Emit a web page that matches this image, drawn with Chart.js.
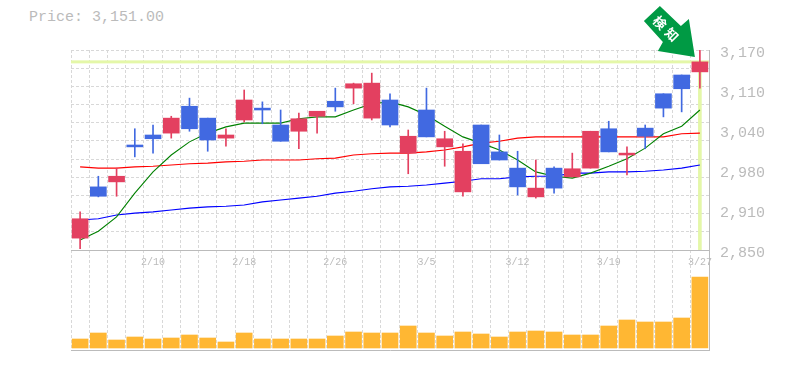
<!DOCTYPE html>
<html>
<head>
<meta charset="utf-8">
<script src="https://cdn.jsdelivr.net/npm/chart.js@4"></script>
<style>
    html, body { margin: 0; background: #fff; }
    #wrap { position: relative; width: 785px; height: 370px; overflow: hidden; }
    #wrap canvas { position: absolute; left: 0; }
    #price { position: absolute; left: 29px; top: 9px; font: 15px "Liberation Mono", monospace; color: #bbb; white-space: pre; }
</style>
</head>
<body>
<div id="wrap">
    <div id="price">Price: 3,151.00</div>
    <canvas id="vol-chart" width="785" height="105" style="top:250px"></canvas>
    <canvas id="price-chart" width="785" height="275" style="top:0"></canvas>
</div>
<script>
const dates = ['2/4','2/5','2/6','2/7','2/10','2/12','2/13','2/14','2/17','2/18','2/19','2/20','2/21','2/25','2/26','2/27','2/28','3/3','3/4','3/5','3/6','3/7','3/10','3/11','3/12','3/13','3/14','3/17','3/18','3/19','3/21','3/24','3/25','3/26','3/27'];
const opens = [2869,2951,2959,3018,3034,3037,3080,3061,3029,3058,3077,3050,3040,3064,3088,3109,3061,3090,3005,3074,3015,2943,3050,3007,2981,2935,2981,2967,2981,3044,3002,3045,3100,3130,3135];
const highs = [2911,2968,2981,3044,3050,3064,3093,3061,3044,3106,3087,3074,3069,3072,3109,3117,3133,3100,3042,3109,3040,3020,3050,3034,3008,2994,2983,3005,3040,3056,3015,3050,3100,3130,3170];
const lows = [2852,2935,2936,2999,3005,3029,3040,3008,3016,3055,3052,3024,3012,3037,3072,3084,3058,3047,2972,3031,2984,2936,2988,2994,2938,2933,2941,2967,2981,3007,2970,3012,3063,3071,3109];
const closes = [2900,2936,2968,3015,3028,3061,3044,3026,3034,3090,3074,3024,3060,3072,3079,3116,3117,3050,3032,3031,3028,3008,2988,2994,2951,2949,2949,2980,3040,3007,3005,3032,3077,3108,3151];
const maShort = [2866,2880,2903,2941,2975,3002,3023,3037,3047,3053,3053,3053,3060,3063,3063,3074,3084,3087,3079,3066,3048,3031,3021,3010,2994,2975,2968,2965,2973,2984,2996,3013,3036,3048,3074];
const maMid = [2983,2981,2981,2983,2984,2986,2988,2989,2991,2992,2994,2994,2994,2996,2997,3002,3004,3005,3005,3007,3010,3015,3021,3024,3029,3031,3031,3031,3031,3031,3031,3031,3031,3036,3037];
const maLong = [2898,2900,2906,2909,2911,2914,2917,2919,2920,2922,2927,2930,2933,2936,2941,2944,2948,2951,2952,2954,2957,2960,2964,2964,2967,2968,2968,2973,2973,2975,2975,2976,2978,2981,2986];
const volumes = [9,15,8,11,9,10,13,10,6,15,9,9,9,9,12,16,15,15,22,15,12,16,14,11,16,17,16,13,13,22,28,26,26,30,71];
const priceTicks = [2850,2914,2978,3042,3106,3170];
const labelEvery = 5;

const UP = '#E34060', DOWN = '#4169E1', MARK = '#E4F7A8', GRID = '#d8d8d8', AXIS = '#bbb';
const MONO = '"Liberation Mono", monospace';
const last = dates.length - 1;
const lastPrice = closes[last];
const yMin = priceTicks[0], yMax = priceTicks[priceTicks.length - 1];
const candleColors = closes.map((c, i) => c >= opens[i] ? UP : DOWN);

// 横の点線は11分割、価格ラベルとは別
const gridSteps = 11;

const markPlugin = {
    id: 'lastPriceMark',
    beforeDatasetsDraw(chart) {
        const { ctx, chartArea, scales } = chart;
        const y = scales.y.getPixelForValue(lastPrice);
        ctx.save();
        ctx.fillStyle = MARK;
        ctx.fillRect(chartArea.left, y - 1.5, chartArea.right - chartArea.left, 3);
        ctx.restore();
    },
    afterDraw(chart) {
        const { ctx, chartArea, scales } = chart;
        const tx = scales.x.getPixelForValue(last) - 5;
        const ty = chartArea.top + 7;
        const pts = [[-35,-51],[-51,-36],[-32,-15],[-37,-6],[0,0],[-6,-38],[-14,-31]];
        ctx.save();
        ctx.translate(tx, ty);
        ctx.fillStyle = '#009A44';
        ctx.beginPath();
        pts.forEach(([x, y], i) => i ? ctx.lineTo(x, y) : ctx.moveTo(x, y));
        ctx.closePath();
        ctx.fill();
        ctx.translate(-29, -28.5);
        ctx.rotate(Math.PI / 4);
        ctx.fillStyle = '#fff';
        ctx.font = 'bold 13px "Noto Sans CJK JP"';
        ctx.textAlign = 'center';
        ctx.textBaseline = 'middle';
        ctx.fillText('検', -8.5, 0);
        ctx.fillText('知', 8.5, 0);
        ctx.restore();
    },
};

const lineSet = (data, color, width, order) => ({
    type: 'line', data, borderColor: color, borderWidth: width,
    pointRadius: 0, tension: 0, fill: false, order,
});

new Chart(document.getElementById('price-chart'), {
    data: {
        labels: dates,
        datasets: [
            { type: 'bar', data: opens.map((o, i) => [o, closes[i]]), backgroundColor: candleColors, barThickness: 16, grouped: false, order: 0 },
            { type: 'bar', data: lows.map((l, i) => [l, highs[i]]), backgroundColor: candleColors, barThickness: 1, grouped: false, order: 1 },
            lineSet(maShort, '#008000', 1.1, 2),
            lineSet(maMid, '#ff0000', 1.2, 3),
            lineSet(maLong, '#0000ff', 1.2, 4),
            { type: 'bar', data: dates.map((d, i) => i === last ? [yMin, lastPrice] : null), backgroundColor: MARK, barThickness: 3, grouped: false, order: 5 },
        ],
    },
    options: {
        responsive: false,
        animation: false,
        devicePixelRatio: 1,
        layout: { padding: { left: 71, top: 50, right: 0, bottom: 0 } },
        plugins: { legend: { display: false }, tooltip: { enabled: false } },
        scales: {
            x: {
                offset: true,
                afterFit: (axis) => { axis.height = 25; },
                grid: { color: GRID, drawTicks: false },
                border: { dash: [3, 2], color: AXIS },
                ticks: {
                    autoSkip: false, maxRotation: 0, padding: 6, color: AXIS,
                    font: { family: MONO, size: 10 },
                    callback(v, i) { return i % labelEvery === labelEvery - 1 ? dates[i] : ''; },
                },
            },
            y: {
                min: yMin, max: yMax,
                afterFit: (axis) => { axis.width = 0; },
                afterBuildTicks(axis) {
                    axis.ticks = Array.from({ length: gridSteps + 1 }, (_, i) => ({ value: yMin + (yMax - yMin) * i / gridSteps }));
                },
                grid: { color: GRID, drawTicks: false },
                border: { display: false, dash: [3, 2] },
                ticks: { display: false },
            },
            yLabels: {
                position: 'right',
                min: yMin, max: yMax,
                afterFit: (axis) => { axis.width = 76; },
                afterBuildTicks(axis) { axis.ticks = priceTicks.map(value => ({ value })); },
                grid: { display: false, drawTicks: false },
                border: { color: AXIS },
                ticks: {
                    color: AXIS, padding: 11, labelOffset: 3,
                    font: { family: MONO, size: 15 },
                    callback: (v) => (Math.round(v / 10) * 10).toLocaleString('en-US'),
                },
            },
        },
    },
    plugins: [markPlugin],
});

new Chart(document.getElementById('vol-chart'), {
    type: 'bar',
    data: {
        labels: dates,
        datasets: [{ data: volumes, backgroundColor: '#FFB733', barThickness: 16 }],
    },
    options: {
        responsive: false,
        animation: false,
        devicePixelRatio: 1,
        layout: { padding: { left: 71, top: 0, right: 0, bottom: 5 } },
        plugins: { legend: { display: false }, tooltip: { enabled: false } },
        scales: {
            x: {
                afterFit: (axis) => { axis.height = 0; },
                grid: { color: GRID, drawTicks: false },
                border: { dash: [3, 2], color: AXIS },
                ticks: { display: false },
            },
            y: {
                position: 'right',
                min: -2, max: 98,
                afterFit: (axis) => { axis.width = 76; },
                grid: { display: false, drawTicks: false },
                border: { color: AXIS },
                ticks: { display: false },
            },
        },
    },
});
</script>
</body>
</html>
